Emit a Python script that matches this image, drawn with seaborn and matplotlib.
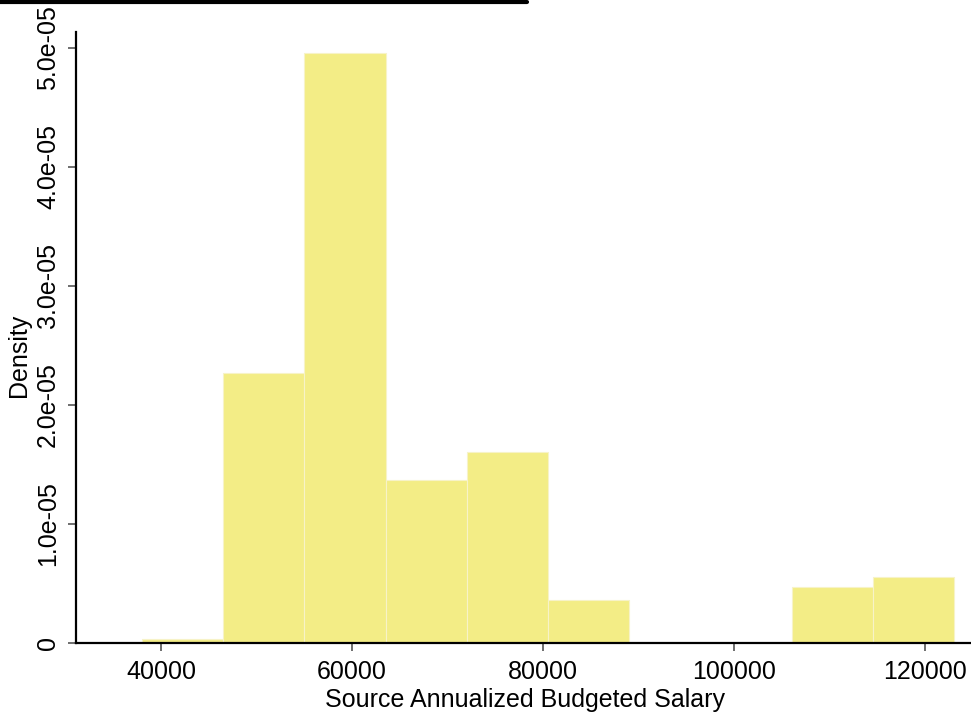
import matplotlib
matplotlib.use("Agg")
import matplotlib.pyplot as plt
import seaborn as sns
from matplotlib.lines import Line2D

# histogram: bin edges and density per bin
bin_edges = [38000, 46500, 55000, 63500, 72000, 80500, 89000, 97500, 106000, 114500, 123000]
density = [0.03e-5, 2.27e-5, 4.95e-5, 1.37e-5, 1.60e-5, 0.36e-5, 0.0, 0.0, 0.47e-5, 0.55e-5]
x_ticks = [40000, 60000, 80000, 100000, 120000]
y_ticks = [0, 1e-5, 2e-5, 3e-5, 4e-5, 5e-5]
y_tick_labels = ["0", "1.0e-05", "2.0e-05", "3.0e-05", "4.0e-05", "5.0e-05"]

sns.set_style("ticks")
plt.rcParams["font.family"] = ["Liberation Sans", "DejaVu Sans"]

fig = plt.figure(figsize=(9.71, 7.12), dpi=100)
ax = fig.add_axes([0.0783, 0.097, 0.922, 0.858])

mids = [(a + b) / 2 for a, b in zip(bin_edges[:-1], bin_edges[1:])]
sns.histplot(x=mids, weights=density, bins=bin_edges, stat="count",
             color="#f3ed86", alpha=1.0, edgecolor="#f7f3c8", linewidth=0.8, ax=ax)

ax.set_xlim(31100, 124800)
ax.set_ylim(0, 5.13e-5)
ax.set_xticks(x_ticks)
ax.set_xticklabels([str(v) for v in x_ticks])
ax.set_yticks(y_ticks)
ax.set_yticklabels(y_tick_labels, rotation=90, va="center")
ax.tick_params(axis="both", labelsize=18, length=5.5, width=1.2, color="#555555",
               labelcolor="black")
ax.tick_params(axis="y", pad=6)
ax.tick_params(axis="x", pad=7)

ax.set_xlabel("Source Annualized Budgeted Salary", fontsize=18, color="black")
ax.xaxis.set_label_coords(0.502, -0.073)
ax.set_ylabel("Density", fontsize=18, color="black")
ax.yaxis.set_label_coords(-0.0506, 0.47)

sns.despine(ax=ax)
for side in ["left", "bottom"]:
    ax.spines[side].set_linewidth(1.6)
    ax.spines[side].set_color("black")

# dark scan edge along the top-left of the page
fig.add_artist(Line2D([0, 0.543], [0.997, 0.997], color="black", lw=3, transform=fig.transFigure))

fig.savefig("out.png", dpi=100)
